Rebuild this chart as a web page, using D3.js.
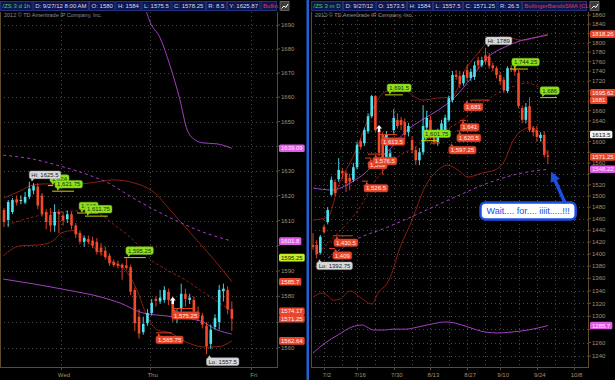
<!DOCTYPE html>
<html>
<head>
<meta charset="utf-8">
<script src="https://cdn.jsdelivr.net/npm/d3@7"></script>
<style>
body { margin: 0; background: #000; }
svg { display: block; font-family: "Liberation Sans", Arial, sans-serif; }
</style>
</head>
<body>
<svg id="chart" width="615" height="380"></svg>
<script>
// ---- left chart: /ZS 3 days, intraday bars [open, high, low, close]
var leftCandles = [
  [1614.2,1615,1607.4,1609.4],[1610.2,1618.2,1607.4,1617.4],[1613.4,1619,1612.6,1618.2],[1618.5,1620,1616,1617.2],
  [1618.2,1620,1616.5,1618.2],[1617.2,1621.5,1616.5,1619.4],[1619.5,1625.5,1618.5,1622.8],[1622,1625,1620.5,1624],
  [1623.6,1625,1614.5,1616],[1620,1621,1611.5,1612.6],[1613.4,1614.5,1606.5,1609.4],[1612.2,1615,1605.5,1608],
  [1608,1616.5,1605.5,1613.4],[1613.4,1614.5,1605,1612.6],[1612,1613.5,1608,1610],[1610.5,1614,1609,1612.5],
  [1612.5,1613.5,1606.5,1608],[1608,1609,1603,1604.5],[1605,1606,1600.5,1601.6],[1601.5,1604,1599.5,1603],
  [1602.6,1604,1600.5,1601.5],[1602,1603.5,1599,1600],[1601.5,1603,1596.5,1597.5],[1599.2,1601,1596,1597.5],
  [1598,1599.5,1594.5,1595.5],[1596,1597,1592,1593],[1593.5,1594.5,1591.5,1592.3],[1592.8,1594,1591,1592],
  [1592.5,1593,1586.5,1591.2],[1592.2,1595,1590.5,1591.2],[1591.5,1592.5,1580.5,1581.8],[1582.5,1583.5,1566.5,1569.5],
  [1572,1575,1563.5,1565.5],[1566,1572,1565,1569.2],[1569.5,1575,1568.5,1573.5],[1573.5,1579,1572.5,1577.5],
  [1579,1580,1576,1578.2],[1578,1582.5,1577,1579.5],[1578.6,1584,1577.5,1582.5],[1581.8,1583,1576.5,1578.6],
  [1579,1580,1570,1571.5],[1571.5,1575,1569.5,1573],[1575,1585,1573,1581],[1581,1583,1576,1579],
  [1578.6,1581,1577,1579.5],[1578.6,1580,1572.5,1574],[1574,1576,1570.5,1572],[1572.5,1573.5,1567.5,1569],
  [1568.5,1570,1557.5,1560.5],[1561.5,1569,1559.5,1567],[1568,1573,1567,1571.5],[1570,1584.5,1567,1582.5],
  [1582,1585,1578,1583],[1582.5,1584,1573,1575],[1575,1578,1566.5,1571.25]
];
var leftDays = ["Wed", "Thu", "Fri"];
var leftDayStarts = [14, 35, 59];
var leftTicks = [1560, 1570, 1580, 1590, 1600, 1610, 1620, 1630, 1640, 1650, 1660, 1670, 1680, 1690];
// studies, [bar, price]
var leftUpper = [[0,1619],[2,1620.5],[4,1622],[7,1624.3],[10,1624.7],[15,1624.3],[20,1625],[26,1626.3],[31,1625],[35,1622],[40,1613],[45,1603.5],[50,1594],[54,1585.7]];
var leftMiddle = [[0.7,1608.2],[6.9,1611.4],[12.6,1613.4],[17.3,1613.8],[22,1613],[26.8,1607.4],[30.6,1602.3],[34.6,1594.7],[38.6,1590.4],[43.4,1586],[46.5,1582.5],[50,1578.6],[54,1574.17]];
var leftLower = [[-0.2,1595.9],[3.8,1599.9],[8.5,1600.3],[11.6,1601.9],[13.7,1605.1],[16.4,1606],[18,1604.3],[22,1598.3],[25.1,1594.3],[29.2,1589.4],[31.5,1582.5],[33.9,1572.3],[36.3,1566.9],[39.3,1565.8],[43.4,1562],[48.1,1560.2],[51.2,1560.5],[54,1562.64]];
var leftAvgSolid = [[-0.2,1586.8],[6.9,1584.9],[14.9,1582.5],[22.8,1579.8],[27.5,1577.4],[32.9,1573.5],[38.6,1572.3],[46.5,1570.4],[50.5,1566.9],[54,1565.3]];
var leftAvgTop = [[33,1700],[34.6,1691.3],[37,1684.6],[39.3,1673.3],[41.7,1658.9],[43.4,1646.6],[45.3,1642.5],[47.2,1641.3],[50.5,1640.9],[54,1639.09]];
var leftAvgDash = [[-0.2,1636.3],[6.9,1634.7],[13.3,1631.9],[18.7,1629.1],[25.1,1624.7],[30.6,1619],[35.3,1614.6],[41,1609.8],[46.5,1605.8],[54,1601.8]];
var leftTags = [[1639.09,"m"],[1601.8,"m"],[1595.25,"g"],[1585.7,"r"],[1574.17,"r"],[1571.25,"r"],[1562.64,"r"]];
// [text, line from bar, line to bar, price, bubble bar, kind]
var leftNotes = [
  ["1,624", 10.4, 11.6, 1624, 10.9, "g"],
  ["1,621.75", 11.4, 16.6, 1621.75, 12.1, "g"],
  ["1,613", 17.3, 22.3, 1613, 17.8, "g"],
  ["1,611.75", 19.2, 24.6, 1611.75, 19.2, "g"],
  ["1,595.25", 28.4, 33.6, 1595.25, 28.9, "g"],
  ["1,575.25", 39.8, 44.8, 1575.25, 39.8, "r"],
  ["1,565.75", 36, 39.8, 1565.75, 36, "r"]
];
var leftMarks = [[40, 1578.6]];
var leftHeader = ["/ZS 3 d 1h", "D: 9/27/12 8:00 AM", "O: 1580", "H: 1584", "L: 1575.5", "C: 1578.25", "R: 8.5", "Y: 1625.87", "Bollin..."];

// ---- right chart: /ZS 3 months daily, first bar 6/27
var rightCandles = [
  [1415,1435,1407,1412],[1415,1423,1392.75,1400],[1402,1432,1399,1429],[1446,1449,1434,1437],[1454,1480,1450,1475],
  [1502,1535,1500,1529],[1525,1530,1500,1505],[1530,1569,1525,1547],[1545,1550,1530,1541],[1541,1545,1507,1523],
  [1532,1540,1510,1526],[1529,1560,1525,1552],[1552,1600,1548,1594],[1601,1606,1585,1590],[1597,1627,1592,1622],
  [1620,1655,1615,1649],[1649,1691.5,1645,1689],[1689,1691,1618,1622],[1622,1625,1572,1579],[1613,1618,1538,1552],
  [1571,1620,1560,1613],[1571,1585,1560,1578],[1622,1663,1615,1646],[1642,1655,1625,1630],[1642,1648,1622,1632],
  [1638,1645,1605,1613],[1618,1636,1610,1630],[1603,1610,1578,1584],[1584,1590,1556,1565],[1565,1588,1556,1580],
  [1580,1671,1575,1630],[1627,1660,1620,1646],[1642,1650,1605,1613],[1616,1622,1594,1599],[1599,1625,1592,1618],
  [1618,1642,1612,1635],[1622,1652,1618,1646],[1642,1690,1638,1685],[1681,1740,1676,1732],[1732,1742,1722,1728],
  [1730,1740,1705,1713],[1715,1738,1710,1732],[1742,1752,1720,1726],[1726,1745,1720,1738],[1728,1760,1722,1752],
  [1763,1770,1745,1752],[1752,1770,1748,1763],[1773,1789,1755,1760],[1770,1778,1745,1751],[1752,1758,1740,1746],
  [1746,1750,1725,1732],[1732,1738,1712,1719],[1722,1728,1695,1701],[1699,1750,1695,1746],[1746,1752,1738,1744],
  [1746,1750,1730,1739],[1736,1742,1665,1669],[1665,1670,1635,1642],[1642,1675,1635,1667],[1669,1687,1618,1622],
  [1626,1630,1610,1618],[1622,1630,1600,1609],[1607,1618,1600,1613],[1613,1620,1570,1575],[1573.5,1584,1557.5,1571.25]
];
var rightDateLabels = ["7/2", "7/16", "7/30", "8/13", "8/27", "9/10", "9/24", "10/8"];
var rightDateBars = [3, 12, 22, 32, 42, 51, 61, 71];
var rightWeekBars = [3, 8, 12, 17, 22, 27, 32, 37, 42, 47, 51, 56, 61, 66, 71];
var rightTicks = [1240, 1260, 1280, 1300, 1320, 1340, 1360, 1380, 1400, 1420, 1440, 1460, 1480, 1500, 1520, 1540,
  1560, 1580, 1600, 1620, 1640, 1660, 1680, 1700, 1720, 1740, 1760, 1780, 1800, 1820, 1840, 1860];
var rightUpper = [[0,1457.6],[4.1,1462.8],[6.8,1516],[11.4,1578.5],[16.1,1661],[19.6,1697.3],[24.3,1705.4],[27,1691],[29.7,1681],[34.1,1685.2],[37.9,1687],[41.4,1742],[45,1777.8],[48.8,1807.7],[52.3,1812],[57,1805],[61.3,1812],[64,1818.26]];
var rightMiddle = [[1.4,1401.6],[6.8,1435.3],[12.3,1475],[17.7,1534.2],[23.2,1571],[27.8,1589.8],[34.1,1616.6],[39.5,1636],[45,1667.3],[50.4,1695.2],[55,1709.5],[58.6,1715.6],[61.3,1707.5],[64,1695.62]];
var rightLower = [[0,1330],[2.5,1336.5],[4.1,1331.7],[5.5,1325],[7.4,1327],[10.1,1339.7],[12.8,1330],[16.1,1319],[17.7,1336.5],[20.4,1354],[21.8,1373.5],[23.2,1401.6],[27,1457.6],[30.5,1516],[34.1,1547],[36.5,1556],[39.5,1547],[42.2,1534],[46.1,1541.5],[49.6,1547],[52.3,1565.5],[54.2,1597.5],[57,1622],[59.7,1628],[61.9,1607],[64,1573]];
var rightAvgSolid = [[0,1514.2],[5.2,1510.6],[10.6,1525],[14.2,1541.5],[17.7,1565.5],[21.5,1589.8],[25.1,1618.4],[29.7,1642],[34.1,1661],[38.7,1687],[43.3,1727.8],[47.7,1769.4],[52.3,1790.6],[57,1805],[61.3,1812],[64,1816.3]];
var rightAvgDash = [[4.1,1393.3],[11.4,1423.4],[20.4,1445.6],[29.7,1471.5],[38.7,1498],[47.7,1523.2],[57,1541.5],[64,1548.22]];
var rightAvgLow = [[0,1244.4],[3.3,1259.3],[6.8,1271.4],[10.6,1283.5],[13.4,1286.5],[14.7,1283.5],[16.4,1278.9],[19.6,1278.9],[21.5,1280.2],[25.1,1280.2],[28.6,1283.5],[32.4,1288.1],[36,1291.2],[38.7,1289.6],[42.2,1283.5],[46.9,1275.9],[50.4,1274.4],[54.2,1275.9],[58.6,1278.9],[64,1285.7]];
var rightTags = [[1818.26,"r"],[1695.62,"r"],[1681,"r"],[1613.5,"w"],[1571.25,"r"],[1548.22,"m"],[1285.7,"m"]];
var rightNotes = [
  ["1,744.25", 53.7, 58.6, 1744.25, 54.2, "g"],
  ["1,691.5", 19.6, 24.5, 1691.5, 20.2, "g"],
  ["1,601.75", 29.4, 34.1, 1601.75, 30, "g"],
  ["1,686", 61.9, 66.5, 1686, 61.9, "g"],
  ["1,681", 42.8, 48.2, 1681, 41.1, "r"],
  ["1,641", 40, 41.7, 1641, 40.1, "r"],
  ["1,620.5", 39.2, 40.5, 1620.5, 39.2, "r"],
  ["1,597.25", 31.9, 34.6, 1597.25, 37, "r"],
  ["1,613.5", 18, 22.9, 1613.5, 18.5, "r"],
  ["1,569", 14.2, 16, 1569, 15, "r"],
  ["1,576.5", 15, 19.6, 1576.5, 16.3, "r"],
  ["1,526.5", 13.4, 15, 1526.5, 13.9, "r"],
  ["1,430.5", 5.4, 10.9, 1430.5, 5.7, "r"],
  ["1,409", 4.4, 6, 1409, 5.4, "r"]
];
var rightMarks = [[18, 1626]];
var rightHeader = ["/ZS 3 m D", "D: 9/27/12", "O: 1573.5", "H: 1584", "L: 1557.5", "C: 1571.25", "R: 26.5", "BollingerBandsSMA (CLO..."];
var calloutText = "Wait.... for.... iiiit.....!!!";
var calloutAt = [58.6, 1473.4];
var arrowFrom = [68.7, 1487];
var arrowTo = [64.9, 1544];

var svg = d3.select("#chart");
svg.append("rect").attr("width", 615).attr("height", 380).attr("fill", "#000");
var defs = svg.append("defs");

var upColor = "#4ee3f0", downColor = "#f24a2b", bandColor = "#8e1d12", purple = "#a23fc6";
var tagFill = { r: "#e9462c", m: "#e25ae8", g: "#c6ef22", w: "#f2f2f2" };
var tagText = { r: "#fff2ee", m: "#fbeefc", g: "#1c2600", w: "#111" };

function drawPanel(cfg) {
  var x = d3.scaleLinear().domain(cfg.bars).range([cfg.x0, cfg.x1]);
  var y = d3.scaleLog().domain(cfg.prices).range(cfg.ys);
  var g = svg.append("g");
  defs.append("clipPath").attr("id", cfg.id).append("rect")
    .attr("x", cfg.x0).attr("y", cfg.top).attr("width", cfg.x1 - cfg.x0).attr("height", cfg.bottom - cfg.top);
  var plot = g.append("g").attr("clip-path", "url(#" + cfg.id + ")");

  // dotted grid
  plot.selectAll(".hg").data(cfg.ticks).join("line")
    .attr("x1", cfg.x0).attr("x2", cfg.x1)
    .attr("y1", function(v) { return Math.round(y(v)) + 0.5; })
    .attr("y2", function(v) { return Math.round(y(v)) + 0.5; })
    .attr("stroke", "#4a4a4a").attr("stroke-dasharray", "1,3");
  plot.selectAll(".vg").data(cfg.grid).join("line")
    .attr("x1", function(s) { return Math.round(x(s)) + 0.5; })
    .attr("x2", function(s) { return Math.round(x(s)) + 0.5; })
    .attr("y1", cfg.top).attr("y2", cfg.bottom)
    .attr("stroke", "#4a4a4a").attr("stroke-dasharray", "1,3");

  var line = d3.line().x(function(p) { return x(p[0]); }).y(function(p) { return y(p[1]); }).curve(d3.curveMonotoneX);
  [[cfg.upper, bandColor, null], [cfg.lower, bandColor, null], [cfg.middle, bandColor, "3,2"],
   [cfg.avgDash, purple, "3,3"]].concat(cfg.avgSolid.map(function(a) { return [a, purple, null]; }))
    .forEach(function(s) {
      plot.append("path").attr("d", line(s[0])).attr("fill", "none")
        .attr("stroke", s[1]).attr("stroke-width", 1).attr("stroke-dasharray", s[2]);
    });

  // candles
  var bars = plot.selectAll(".c").data(cfg.candles).join("g");
  function col(d) { return d[3] > d[0] ? upColor : d[3] < d[0] ? downColor : "#c8c8c8"; }
  bars.append("line")
    .attr("x1", function(d, i) { return x(i); }).attr("x2", function(d, i) { return x(i); })
    .attr("y1", function(d) { return y(d[1]); }).attr("y2", function(d) { return y(d[2]); })
    .attr("stroke", col).attr("stroke-width", 0.9);
  bars.append("rect")
    .attr("x", function(d, i) { return x(i) - 1.3; }).attr("width", 2.6)
    .attr("y", function(d) { return y(Math.max(d[0], d[3])); })
    .attr("height", function(d) { return Math.max(1, y(Math.min(d[0], d[3])) - y(Math.max(d[0], d[3]))); })
    .attr("fill", col);

  // price bubbles
  cfg.notes.forEach(function(n) {
    var py = y(n[3]), green = n[5] === "g";
    plot.append("line").attr("x1", x(n[1])).attr("x2", x(n[2])).attr("y1", py).attr("y2", py)
      .attr("stroke", green ? "#c9d400" : "#e0401f").attr("stroke-width", 1);
    bubble(plot, x(n[4]), green ? py - 7 : py + 7, n[0], green ? "#8fe11d" : "#e9462c",
      green ? "#13300a" : "#ffeee8", green ? 1 : -1);
  });

  // trade marks
  cfg.marks.forEach(function(m) {
    var mx = x(m[0]), my = y(m[1]);
    plot.append("path").attr("d", "M" + mx + "," + (my - 3) + "l3,3.5h-1.8v3.5h-2.4v-3.5h-1.8z").attr("fill", "#fff");
  });

  // high / low
  var hiI = d3.maxIndex(cfg.candles, function(d) { return d[1]; });
  var loI = d3.minIndex(cfg.candles, function(d) { return d[2]; });
  bubble(plot, x(hiI), y(cfg.candles[hiI][1]) - 7, "Hi: " + cfg.candles[hiI][1], "#d9d9d9", "#222", 1);
  bubble(g, x(loI), y(cfg.candles[loI][2]) + 7.5, "Lo: " + cfg.candles[loI][2], "#d9d9d9", "#222", -1);

  // axes
  var axisColor = "#5e4b27";
  g.append("line").attr("x1", cfg.x1 + 0.5).attr("x2", cfg.x1 + 0.5).attr("y1", cfg.top).attr("y2", cfg.bottom)
    .attr("stroke", axisColor);
  g.append("line").attr("x1", cfg.x0).attr("x2", cfg.x1 + 1).attr("y1", cfg.bottom + 0.5).attr("y2", cfg.bottom + 0.5)
    .attr("stroke", axisColor);
  g.append("line").attr("x1", cfg.x0 + 0.5).attr("x2", cfg.x0 + 0.5).attr("y1", cfg.top).attr("y2", cfg.bottom)
    .attr("stroke", axisColor);
  var tagY = cfg.tags.map(function(t) { return y(t[0]); });
  var shown = cfg.ticks.filter(function(v) {
    return tagY.every(function(ty) { return Math.abs(ty - y(v)) > 5; });
  });
  g.selectAll(".tk").data(cfg.ticks).join("line")
    .attr("x1", cfg.x1).attr("x2", cfg.x1 + 3)
    .attr("y1", function(v) { return y(v); }).attr("y2", function(v) { return y(v); })
    .attr("stroke", axisColor);
  g.selectAll(".tl").data(shown).join("text")
    .attr("x", cfg.x1 + 4).attr("y", function(v) { return y(v) + 2.1; })
    .attr("font-size", 6).attr("fill", "#a0916f").text(function(v) { return v; });
  cfg.tags.forEach(function(t) {
    var ty = y(t[0]);
    var tx = g.append("text").attr("x", cfg.x1 + 4).attr("y", ty + 2.1).attr("font-size", 6)
      .attr("fill", tagText[t[1]]).text(t[0]);
    var w = tx.node().getComputedTextLength() + 4;
    g.insert("rect", function() { return tx.node(); })
      .attr("x", cfg.x1 + 2).attr("y", ty - 3.8).attr("width", w).attr("height", 7.6).attr("rx", 1.5)
      .attr("fill", tagFill[t[1]]);
  });
  g.selectAll(".xt").data(cfg.xTicks).join("line")
    .attr("x1", function(s) { return Math.round(x(s)) + 0.5; })
    .attr("x2", function(s) { return Math.round(x(s)) + 0.5; })
    .attr("y1", cfg.bottom).attr("y2", cfg.bottom + 3).attr("stroke", axisColor);
  g.selectAll(".xl").data(cfg.xLabels).join("text")
    .attr("x", function(d, i) { return x(cfg.xTicks[i]) + 3; }).attr("y", 377)
    .attr("text-anchor", "middle").attr("font-size", 6).attr("fill", "#a0916f").text(function(d) { return d; });

  return { x: x, y: y, g: g };
}

function bubble(parent, bx, cy, text, fill, color, dir) {
  var t = parent.append("text").attr("x", bx + 2).attr("y", cy + 2.1).attr("font-size", 6)
    .attr("fill", color).text(text);
  var w = t.node().getComputedTextLength() + 4;
  var tip = dir > 0 ? "M" + (bx + 1.5) + "," + (cy + 3.5) + "l1,3l2.5,-3z" : "M" + (bx + 1.5) + "," + (cy - 3.5) + "l1,-3l2.5,3z";
  parent.insert("path", function() { return t.node(); }).attr("d", tip).attr("fill", fill);
  parent.insert("rect", function() { return t.node(); })
    .attr("x", bx).attr("y", cy - 3.8).attr("width", w).attr("height", 7.6).attr("rx", 1.8)
    .attr("fill", fill).attr("stroke", d3.color(fill).darker(0.6)).attr("stroke-width", 0.5);
}

function drawHeader(x0, x1, cells) {
  var g = svg.append("g");
  var cx = x0;
  cells.forEach(function(c, i) {
    var last = i === cells.length - 1;
    var t = g.append("text").attr("x", cx + 2.5).attr("y", 8.2).attr("font-size", 6)
      .attr("fill", i === 0 ? "#49d249" : last ? "#e5383a" : "#dcdce6").text(c);
    var w = last ? x1 - cx : t.node().getComputedTextLength() + 5;
    g.insert("rect", function() { return t.node(); })
      .attr("x", cx + 0.5).attr("y", 1.5).attr("width", w - 1).attr("height", 9)
      .attr("fill", "#0c1650").attr("stroke", "#2b3b92").attr("stroke-width", 0.8);
    cx += w;
  });
  var ix = x1 + 3;
  g.append("rect").attr("x", ix).attr("y", 1.5).attr("width", 9).attr("height", 9)
    .attr("fill", "#3b3b3b").attr("stroke", "#8a8a8a").attr("stroke-width", 0.6);
  g.append("path").attr("d", "M" + (ix + 1.5) + ",8.5l2.5,-2.5l2,1.5l2,-3.5").attr("fill", "none")
    .attr("stroke", "#fff").attr("stroke-width", 1);
  svg.append("text").attr("x", x0 + 4).attr("y", 17).attr("font-size", 5.5).attr("fill", "#8c8c8c")
    .text("2012 \u00a9 TD Ameritrade IP Company, Inc.");
}

drawPanel({
  id: "clipL", x0: 0, x1: 277, top: 12, bottom: 367,
  bars: [-0.95, 64.7], prices: [1560, 1690], ys: [347.7, 25],
  candles: leftCandles, ticks: leftTicks,
  grid: leftDayStarts.map(function(s) { return s - 0.5; }),
  upper: leftUpper, middle: leftMiddle, lower: leftLower, avgDash: leftAvgDash,
  avgSolid: [leftAvgSolid, leftAvgTop], tags: leftTags, notes: leftNotes, marks: leftMarks,
  xTicks: leftDayStarts.map(function(s) { return s - 0.5; }), xLabels: leftDays
});

var right = drawPanel({
  id: "clipR", x0: 311, x1: 588, top: 12, bottom: 367,
  bars: [-0.545, 74.93], prices: [1240, 1860], ys: [356, 15],
  candles: rightCandles, ticks: rightTicks, grid: rightWeekBars,
  upper: rightUpper, middle: rightMiddle, lower: rightLower, avgDash: rightAvgDash,
  avgSolid: [rightAvgSolid, rightAvgLow], tags: rightTags, notes: rightNotes, marks: rightMarks,
  xTicks: rightDateBars, xLabels: rightDateLabels
});

// callout with arrow
(function() {
  var x = right.x, y = right.y;
  var cx = x(calloutAt[0]), cy = y(calloutAt[1]);
  var t = svg.append("text").attr("x", cx).attr("y", cy + 3.2).attr("text-anchor", "middle")
    .attr("font-size", 9).attr("fill", "#1b4fe4").text(calloutText);
  var w = t.node().getComputedTextLength() + 12;
  svg.insert("rect", function() { return t.node(); })
    .attr("x", cx - w / 2).attr("y", cy - 8.5).attr("width", w).attr("height", 17).attr("rx", 5)
    .attr("fill", "#fff").attr("stroke", "#1b4fe4").attr("stroke-width", 2.5);
  var fx = x(arrowFrom[0]), fy = y(arrowFrom[1]), tx = x(arrowTo[0]), ty = y(arrowTo[1]);
  var len = Math.hypot(tx - fx, ty - fy), ux = (tx - fx) / len, uy = (ty - fy) / len;
  svg.append("line").attr("x1", fx).attr("y1", fy).attr("x2", tx - 7 * ux).attr("y2", ty - 7 * uy)
    .attr("stroke", "#1b4fe4").attr("stroke-width", 3.5);
  svg.append("path").attr("d", "M" + tx + "," + ty +
      "L" + (tx - 10 * ux + 5 * uy) + "," + (ty - 10 * uy - 5 * ux) +
      "L" + (tx - 10 * ux - 5 * uy) + "," + (ty - 10 * uy + 5 * ux) + "Z")
    .attr("fill", "#1b4fe4");
})();

drawHeader(0, 277, leftHeader);
drawHeader(311, 587, rightHeader);

// blue pane divider
svg.append("rect").attr("x", 306.5).attr("y", 0).attr("width", 2.5).attr("height", 380).attr("fill", "#1f62d6");
</script>
</body>
</html>
